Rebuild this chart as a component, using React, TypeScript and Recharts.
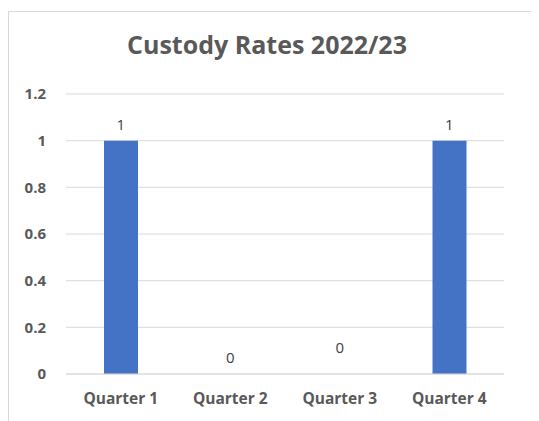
import { Bar, CartesianGrid, ComposedChart, LabelList, Line, XAxis, YAxis } from "recharts";

const quarters = ["Quarter 1", "Quarter 2", "Quarter 3", "Quarter 4"];
const custodyRates = [1, 0, 0, 1];
const yTicks = [0, 0.2, 0.4, 0.6, 0.8, 1, 1.2];
// small vertical nudges on the value labels, as in the original
const labelNudge = [0, 0, -10, 0];

const chartData = quarters.map((q, i) => ({ quarter: q, rate: custodyRates[i] }));

const FONT = "'Open Sans', sans-serif";
const TEXT = "#595959";

// labels hang off an invisible line so that the zero values still get one
function ValueLabel(props: any) {
  const { x, y, value, index } = props;
  return (
    <text
      x={x}
      y={y - 17 + (labelNudge[index] ?? 0)}
      textAnchor="middle"
      dominantBaseline="central"
      fontSize={15}
      fill="#404040"
      fontFamily={FONT}
    >
      {value}
    </text>
  );
}

export default function App() {
  return (
    <div
      style={{
        marginTop: 3,
        width: 540,
        height: 415,
        border: "1px solid #d9d9d9",
        position: "relative",
        background: "#fff",
        fontFamily: FONT
      }}
    >
      <div
        style={{
          position: "absolute",
          top: 15,
          left: 0,
          width: 516,
          textAlign: "center",
          fontSize: 25,
          fontWeight: 700,
          color: TEXT
        }}
      >
        Custody Rates 2022/23
      </div>
      <ComposedChart
        width={530}
        height={410}
        data={chartData}
        margin={{ top: 82, right: 35, bottom: 18, left: 0 }}
      >
        <CartesianGrid vertical={false} stroke="#d9d9d9" />
        <XAxis
          dataKey="quarter"
          axisLine={{ stroke: "#d9d9d9" }}
          tickLine={false}
          tickSize={0}
          tickMargin={19}
          height={30}
          tick={{ fill: TEXT, fontSize: 15.5, fontWeight: 700, fontFamily: FONT }}
        />
        <YAxis
          domain={[0, 1.2]}
          ticks={yTicks}
          width={57}
          axisLine={false}
          tickLine={false}
          tickSize={0}
          tickMargin={20}
          tick={{ fill: TEXT, fontSize: 15, fontWeight: 700, fontFamily: FONT }}
        />
        <Bar dataKey="rate" fill="#4472C4" barSize={34} isAnimationActive={false} />
        <Line
          dataKey="rate"
          stroke="none"
          dot={false}
          activeDot={false}
          isAnimationActive={false}
        >
          <LabelList dataKey="rate" content={ValueLabel} />
        </Line>
      </ComposedChart>
    </div>
  );
}
